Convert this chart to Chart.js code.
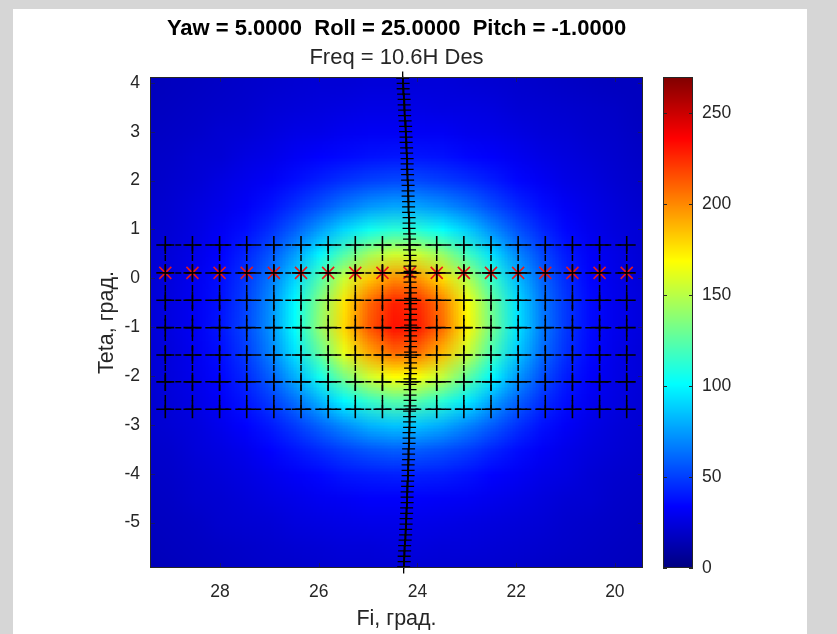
<!DOCTYPE html>
<html>
<head>
<meta charset="utf-8">
<script src="https://cdn.jsdelivr.net/npm/chart.js@4/dist/chart.umd.min.js"></script>
<style>
  html, body { margin: 0; padding: 0; background: #fff; }
  canvas { display: block; }
</style>
</head>
<body>
<canvas id="c" width="837" height="634"></canvas>
<script>
// ---- field sampled on a regular Fi/Teta grid (deg) ----
const fiGrid   = [29.5, 29, 28.5, 28, 27.5, 27, 26.5, 26, 25.5, 25, 24.5, 24, 23.5, 23, 22.5, 22, 21.5, 21, 20.5, 20, 19.5];
const tetaGrid = [4, 3.5, 3, 2.5, 2, 1.5, 1, 0.5, 0, -0.5, -1, -1.5, -2, -2.5, -3, -3.5, -4, -4.5, -5, -5.5, -6];
// one row per Teta value, one column per Fi value
const power = [
  [16,17,18,19,20,21,22,23,23,24,24,24,24,23,22,21,20,19,18,17,17],
  [17,18,19,20,21,23,24,25,26,27,27,27,26,26,25,23,22,21,20,19,17],
  [18,19,20,22,23,25,27,28,30,31,31,31,31,29,28,26,24,23,21,20,18],
  [19,20,22,23,26,28,31,34,36,38,39,39,38,35,33,30,27,25,23,21,19],
  [19,21,23,26,29,32,37,42,47,51,53,53,50,46,41,35,31,27,25,22,20],
  [20,22,25,28,32,38,46,55,65,73,77,76,71,63,53,44,37,31,27,24,21],
  [21,23,26,31,37,46,59,75,91,105,112,111,102,88,71,56,44,35,29,25,23],
  [22,24,28,34,43,56,75,99,123,144,156,155,141,118,93,70,53,40,32,27,23],
  [22,25,30,37,48,65,90,122,155,183,199,197,178,148,115,84,61,45,34,28,24],
  [23,26,31,38,51,71,101,137,176,209,228,225,204,168,129,94,66,48,36,29,25],
  [23,26,31,39,52,72,102,140,179,213,232,229,207,171,131,95,67,48,36,29,25],
  [22,25,30,37,49,68,94,127,163,192,209,207,187,155,120,88,63,46,35,28,24],
  [22,25,29,35,44,59,80,106,133,156,169,167,152,127,100,75,55,41,33,27,24],
  [21,24,27,32,39,49,63,81,100,115,124,123,112,96,77,60,46,37,30,26,23],
  [21,23,25,29,34,40,49,60,71,81,86,85,79,69,58,47,38,32,27,24,22],
  [20,21,24,26,29,34,39,45,51,56,59,58,55,50,43,37,32,28,25,23,21],
  [19,20,22,24,26,29,32,35,39,41,42,42,41,38,34,31,28,26,23,21,20],
  [18,19,21,22,24,26,28,30,31,33,33,33,32,31,29,27,25,23,22,20,19],
  [17,18,19,21,22,23,25,26,27,28,28,28,27,26,25,24,23,21,20,19,18],
  [16,17,18,19,20,21,22,23,24,24,25,25,24,24,23,22,21,20,19,18,17],
  [15,16,17,18,19,20,20,21,22,22,22,22,22,21,21,20,19,18,18,17,16]
];
const colorMin = 0;
const colorMax = 270;

// ---- beam positions (deg) ----
const beamFi   = [29.11, 28.56, 28.01, 27.46, 26.91, 26.36, 25.81, 25.26, 24.71, 24.16, 23.61, 23.06, 22.51, 21.96, 21.41, 20.86, 20.31, 19.76];
const beamTeta = [0.68, 0.11, -0.45, -1.01, -1.57, -2.12, -2.68];
const markedTeta = 0.11;

// ---- meridian track ----
const meridianTeta = [4.10, 3.99, 3.88, 3.77, 3.66, 3.55, 3.44, 3.33, 3.22, 3.11, 3.00, 2.89, 2.78, 2.67, 2.56, 2.45, 2.34, 2.23, 2.12, 2.01,
  1.90, 1.79, 1.68, 1.57, 1.46, 1.35, 1.24, 1.13, 1.02, 0.91, 0.80, 0.69, 0.58, 0.47, 0.36, 0.25, 0.14, 0.03, -0.08, -0.19,
  -0.30, -0.41, -0.52, -0.63, -0.74, -0.85, -0.96, -1.07, -1.18, -1.29, -1.40, -1.51, -1.62, -1.73, -1.84, -1.95, -2.06, -2.17, -2.28, -2.39,
  -2.50, -2.61, -2.72, -2.83, -2.94, -3.05, -3.16, -3.27, -3.38, -3.49, -3.60, -3.71, -3.82, -3.93, -4.04, -4.15, -4.26, -4.37, -4.48, -4.59,
  -4.70, -4.81, -4.92, -5.03, -5.14, -5.25, -5.36, -5.47, -5.58, -5.69, -5.80, -5.91];
const meridianFi = [24.30, 24.29, 24.29, 24.28, 24.27, 24.27, 24.26, 24.26, 24.25, 24.24, 24.24, 24.23, 24.23, 24.22, 24.22, 24.21, 24.21, 24.21, 24.20, 24.20,
  24.19, 24.19, 24.19, 24.18, 24.18, 24.18, 24.17, 24.17, 24.17, 24.16, 24.16, 24.16, 24.16, 24.15, 24.15, 24.15, 24.15, 24.15, 24.15, 24.14,
  24.14, 24.14, 24.14, 24.14, 24.14, 24.14, 24.14, 24.14, 24.14, 24.14, 24.14, 24.14, 24.14, 24.14, 24.14, 24.14, 24.15, 24.15, 24.15, 24.15,
  24.15, 24.15, 24.16, 24.16, 24.16, 24.16, 24.17, 24.17, 24.17, 24.18, 24.18, 24.18, 24.19, 24.19, 24.19, 24.20, 24.20, 24.21, 24.21, 24.21,
  24.22, 24.22, 24.23, 24.23, 24.24, 24.24, 24.25, 24.26, 24.26, 24.27, 24.27, 24.28];

// ---- axes ----
const fiTicks = [20, 22, 24, 26, 28];
const tetaTicks = [-5, -4, -3, -2, -1, 0, 1, 2, 3, 4];
const colorTicks = [0, 50, 100, 150, 200, 250];
const fiRange = [19.43, 29.42];
const tetaRange = [-5.93, 4.12];

const titleText = 'Yaw = 5.0000  Roll = 25.0000  Pitch = -1.0000';
const subtitleText = 'Freq = 10.6H Des';
const xTitle = 'Fi, град.';
const yTitle = 'Teta, град.';

const FONT = '"Liberation Sans", Arial, Helvetica, sans-serif';
const AXIS_COLOR = 'rgb(38,38,38)';

function jet(t) {
  t = Math.min(1, Math.max(0, t));
  const c = v => Math.round(255 * Math.min(1, Math.max(0, v)));
  return [c(1.5 - Math.abs(4 * t - 3)), c(1.5 - Math.abs(4 * t - 2)), c(1.5 - Math.abs(4 * t - 1))];
}

// page frame behind the figure
const framePlugin = {
  id: 'frame',
  beforeDraw(chart) {
    const ctx = chart.ctx;
    ctx.save();
    ctx.fillStyle = '#d6d6d6';
    ctx.fillRect(0, 0, chart.width, chart.height);
    ctx.fillStyle = '#ffffff';
    ctx.fillRect(13, 9, 794, chart.height - 9);
    ctx.restore();
  }
};

// smooth colour image of the field, placed through the x/y scales
const heatmapPlugin = {
  id: 'heatmap',
  beforeDatasetsDraw(chart) {
    const { ctx, chartArea: a, scales } = chart;
    const xs = fiGrid.map(v => scales.x.getPixelForValue(v));
    const ys = tetaGrid.map(v => scales.y.getPixelForValue(v));
    const nx = xs.length, ny = ys.length;
    const colIdx = [...Array(nx).keys()];
    const rowIdx = [...Array(ny).keys()];
    if (xs[0] > xs[nx - 1]) colIdx.reverse();
    if (ys[0] > ys[ny - 1]) rowIdx.reverse();
    const off = document.createElement('canvas');
    off.width = nx; off.height = ny;
    const octx = off.getContext('2d');
    const img = octx.createImageData(nx, ny);
    for (let r = 0; r < ny; r++) {
      for (let c = 0; c < nx; c++) {
        const v = power[rowIdx[r]][colIdx[c]];
        const [R, G, B] = jet((v - colorMin) / (colorMax - colorMin));
        const k = (r * nx + c) * 4;
        img.data[k] = R; img.data[k + 1] = G; img.data[k + 2] = B; img.data[k + 3] = 255;
      }
    }
    octx.putImageData(img, 0, 0);
    const dx = Math.abs(xs[1] - xs[0]) / 2, dy = Math.abs(ys[1] - ys[0]) / 2;
    const left = Math.min(...xs) - dx, right = Math.max(...xs) + dx;
    const top = Math.min(...ys) - dy, bottom = Math.max(...ys) + dy;
    ctx.save();
    ctx.beginPath();
    ctx.rect(a.left, a.top, a.right - a.left, a.bottom - a.top);
    ctx.clip();
    ctx.imageSmoothingEnabled = true;
    ctx.drawImage(off, left, top, right - left, bottom - top);
    ctx.restore();
  }
};

// box, inner ticks, colour bar and titles
const decorPlugin = {
  id: 'decor',
  afterDraw(chart) {
    const { ctx, chartArea: a, scales } = chart;
    ctx.save();
    // axes box
    ctx.strokeStyle = AXIS_COLOR;
    ctx.lineWidth = 1;
    ctx.strokeRect(a.left + 0.5, a.top + 0.5, a.right - a.left - 1, a.bottom - a.top - 1);
    ctx.strokeStyle = 'rgba(38,38,38,0.55)';
    ctx.beginPath();
    fiTicks.forEach(v => {
      const px = Math.round(scales.x.getPixelForValue(v)) + 0.5;
      ctx.moveTo(px, a.bottom); ctx.lineTo(px, a.bottom - 5);
      ctx.moveTo(px, a.top); ctx.lineTo(px, a.top + 5);
    });
    tetaTicks.forEach(v => {
      const py = Math.round(scales.y.getPixelForValue(v)) + 0.5;
      ctx.moveTo(a.left, py); ctx.lineTo(a.left + 5, py);
      ctx.moveTo(a.right, py); ctx.lineTo(a.right - 5, py);
    });
    ctx.stroke();

    // colour bar
    const cb = scales.cb;
    const barL = a.right + 20, barW = 30;
    for (let py = Math.floor(cb.top); py < Math.ceil(cb.bottom); py++) {
      const v = cb.getValueForPixel(py + 0.5);
      const [R, G, B] = jet((v - colorMin) / (colorMax - colorMin));
      ctx.fillStyle = `rgb(${R},${G},${B})`;
      ctx.fillRect(barL, py, barW, 1);
    }
    ctx.strokeStyle = AXIS_COLOR;
    ctx.strokeRect(barL + 0.5, cb.top + 0.5, barW - 1, cb.bottom - cb.top - 1);
    ctx.beginPath();
    colorTicks.forEach(v => {
      const py = Math.round(cb.getPixelForValue(v)) + 0.5;
      ctx.moveTo(barL, py); ctx.lineTo(barL + 4, py);
      ctx.moveTo(barL + barW, py); ctx.lineTo(barL + barW - 4, py);
    });
    ctx.stroke();

    // titles
    const cx = (a.left + a.right) / 2;
    ctx.fillStyle = '#000';
    ctx.textAlign = 'center';
    ctx.textBaseline = 'alphabetic';
    ctx.font = `bold 22px ${FONT}`;
    ctx.fillText(titleText, cx, 35);
    ctx.fillStyle = AXIS_COLOR;
    ctx.font = `22px ${FONT}`;
    ctx.fillText(subtitleText, cx, 64);
    ctx.font = `21.5px ${FONT}`;
    ctx.fillText(xTitle, cx, 625);
    ctx.translate(113, (a.top + a.bottom) / 2);
    ctx.rotate(-Math.PI / 2);
    ctx.fillText(yTitle, 0, 0);
    ctx.restore();
  }
};

const crossLine = {
  showLine: true, borderColor: '#000', borderWidth: 1.5, borderDash: [6, 4],
  pointStyle: 'cross', pointRadius: 9, pointBorderColor: '#000', pointBorderWidth: 1.6,
  xAxisID: 'x', yAxisID: 'y'
};

const datasets = [];
// meridian track on top
datasets.push({
  data: meridianTeta.map((t, i) => ({ x: meridianFi[i], y: t })),
  showLine: true, borderColor: '#000', borderWidth: 1.5,
  pointStyle: 'cross', pointRadius: 6.5, pointBorderColor: '#000', pointBorderWidth: 1.3,
  clip: 8, order: 0, xAxisID: 'x', yAxisID: 'y'
});
// beam rows
beamTeta.forEach(t => datasets.push(Object.assign({}, crossLine, {
  data: beamFi.map(f => ({ x: f, y: t })), order: 1
})));
// beam columns
beamFi.forEach(f => datasets.push(Object.assign({}, crossLine, {
  data: beamTeta.map(t => ({ x: f, y: t })), pointRadius: 0, order: 2
})));
// marked row
datasets.push({
  data: beamFi.map(f => ({ x: f, y: markedTeta })),
  showLine: false, pointStyle: 'star', pointRadius: 8.5,
  pointBorderColor: 'rgb(235,25,25)', pointBorderWidth: 1.6, order: 3,
  xAxisID: 'x', yAxisID: 'y'
});

const tickFont = { family: FONT, size: 17.5 };

new Chart(document.getElementById('c'), {
  type: 'scatter',
  data: { datasets },
  options: {
    responsive: false,
    devicePixelRatio: 1,
    animation: false,
    events: [],
    layout: { padding: { top: 77, left: 0, right: 0, bottom: 0 } },
    plugins: { legend: { display: false }, tooltip: { enabled: false }, title: { display: false } },
    scales: {
      x: {
        type: 'linear', position: 'bottom', reverse: true,
        min: fiRange[0], max: fiRange[1],
        grid: { display: false, drawTicks: false }, border: { display: false },
        ticks: { font: tickFont, color: AXIS_COLOR, padding: 14, maxRotation: 0, autoSkip: false },
        afterBuildTicks: s => { s.ticks = fiTicks.map(v => ({ value: v })); },
        afterFit: s => { s.height = 66; }
      },
      y: {
        type: 'linear', position: 'left',
        min: tetaRange[0], max: tetaRange[1],
        grid: { display: false, drawTicks: false }, border: { display: false },
        ticks: { font: tickFont, color: AXIS_COLOR, padding: 10, autoSkip: false },
        afterBuildTicks: s => { s.ticks = tetaTicks.map(v => ({ value: v })); },
        afterFit: s => { s.width = 150; }
      },
      cb: {
        type: 'linear', position: 'right', axis: 'y',
        min: colorMin, max: colorMax,
        // transparent tick marks reserve the room taken by the gap and the bar
        grid: { display: true, drawOnChartArea: false, drawTicks: true, tickLength: 55, color: 'rgba(0,0,0,0)' },
        border: { display: false },
        ticks: { font: tickFont, color: AXIS_COLOR, padding: 4, autoSkip: false },
        afterBuildTicks: s => { s.ticks = colorTicks.map(v => ({ value: v })); },
        afterFit: s => { s.width = 194; }
      }
    }
  },
  plugins: [framePlugin, heatmapPlugin, decorPlugin]
});
</script>
</body>
</html>
